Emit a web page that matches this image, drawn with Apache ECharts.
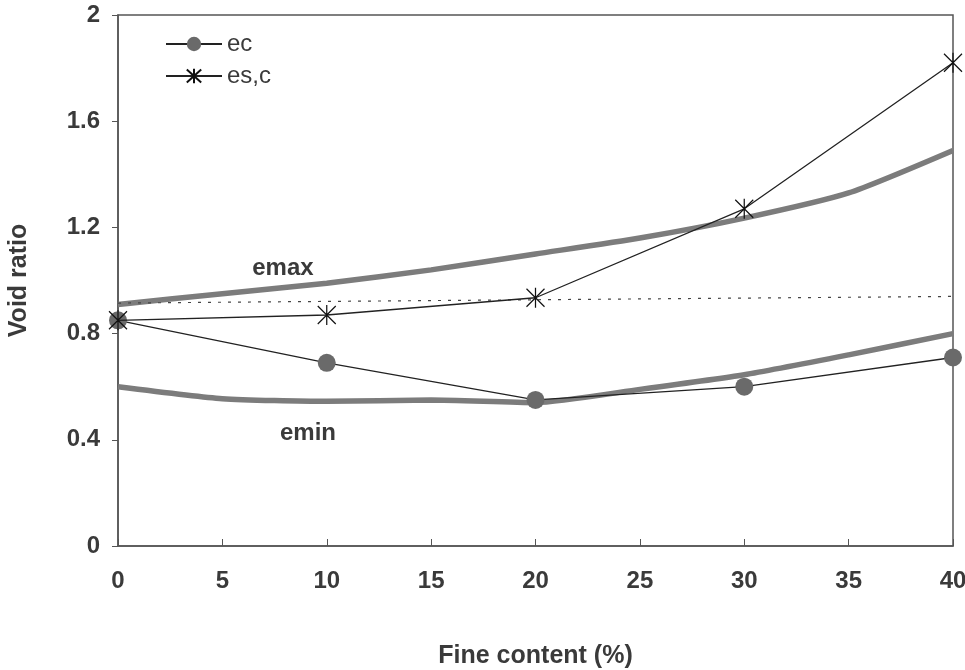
<!DOCTYPE html>
<html>
<head>
<meta charset="utf-8">
<script src="https://cdn.jsdelivr.net/npm/echarts@6/dist/echarts.min.js"></script>
<style>
  html, body { margin: 0; padding: 0; background: #fff; }
  #chart { width: 965px; height: 670px; }
</style>
</head>
<body>
<div id="chart"></div>
<script>
// fines content (%) of the test points
var fines = [0, 10, 20, 30, 40];
// measured void ratios
var ecValues = [0.85, 0.69, 0.55, 0.60, 0.71];
var escValues = [0.85, 0.87, 0.935, 1.27, 1.82];
// emax / emin curves
var emaxX = [0, 5, 10, 15, 20, 25, 30, 35, 40];
var emaxValues = [0.91, 0.95, 0.99, 1.04, 1.10, 1.16, 1.235, 1.33, 1.49];
var eminX = [0, 5, 10, 15, 20, 25, 30, 35, 40];
var eminValues = [0.60, 0.555, 0.545, 0.55, 0.54, 0.59, 0.645, 0.72, 0.80];
// dotted reference line
var dotX = [0, 40];
var dotValues = [0.915, 0.94];
var yTicks = [0, 0.4, 0.8, 1.2, 1.6, 2];

function pairs(xs, ys) {
  var res = [];
  for (var i = 0; i < xs.length; i++) {
    res.push([xs[i], ys[i]]);
  }
  return res;
}

var starPath = 'path://M0,-10L0,10M-9,-9L9,9M-9,9L9,-9';
var axisColor = '#555';
var textColor = '#3a3a3a';
var boldFont = { fontFamily: 'Liberation Sans', fontWeight: 'bold', color: textColor };

var dom = document.getElementById('chart');
var myChart = echarts.init(dom);
var option = {
  animation: false,
  grid: {
    left: 118,
    right: 12,
    top: 15,
    bottom: 124,
    outerBoundsMode: 'none',
    containLabel: false,
    show: true,
    borderColor: axisColor,
    borderWidth: 1.5
  },
  legend: {
    orient: 'vertical',
    left: 160,
    top: 27,
    itemWidth: 56,
    itemHeight: 18,
    itemGap: 8,
    textStyle: { fontFamily: 'Liberation Sans', fontSize: 24, color: textColor },
    data: ['ec', 'es,c']
  },
  xAxis: {
    type: 'value',
    min: 0,
    max: 40,
    interval: 5,
    name: 'Fine content (%)',
    nameLocation: 'middle',
    nameGap: 98,
    nameTextStyle: Object.assign({ fontSize: 25 }, boldFont),
    axisLine: { lineStyle: { color: axisColor, width: 1.5 } },
    axisTick: { inside: true, length: 7, lineStyle: { color: axisColor } },
    axisLabel: Object.assign({ margin: 23, fontSize: 24 }, boldFont),
    splitLine: { show: false }
  },
  yAxis: {
    type: 'value',
    min: 0,
    max: 2,
    interval: 0.4,
    name: 'Void ratio',
    nameLocation: 'middle',
    nameGap: 86,
    nameTextStyle: Object.assign({ fontSize: 25 }, boldFont),
    axisLine: { show: true, lineStyle: { color: axisColor, width: 1.5 } },
    axisTick: { show: true, length: 6, lineStyle: { color: axisColor } },
    axisLabel: Object.assign({
      margin: 18,
      fontSize: 24,
      formatter: function (v) {
        for (var i = 0; i < yTicks.length; i++) {
          if (Math.abs(yTicks[i] - v) < 1e-6) return String(yTicks[i]);
        }
        return '';
      }
    }, boldFont),
    splitLine: { show: false }
  },
  series: [
    {
      name: 'emax',
      type: 'line',
      data: pairs(emaxX, emaxValues),
      symbol: 'none',
      smooth: 0.2,
      lineStyle: { color: '#7c7c7c', width: 5.5 },
      z: 2,
      markPoint: {
        symbol: 'circle',
        symbolSize: 0,
        label: Object.assign({ show: true, position: 'inside', formatter: 'emax', fontSize: 24 }, boldFont),
        data: [{ coord: [7.9, 1.045] }]
      }
    },
    {
      name: 'emin',
      type: 'line',
      data: pairs(eminX, eminValues),
      symbol: 'none',
      smooth: 0.2,
      lineStyle: { color: '#7c7c7c', width: 5.5 },
      z: 2,
      markPoint: {
        symbol: 'circle',
        symbolSize: 0,
        label: Object.assign({ show: true, position: 'inside', formatter: 'emin', fontSize: 24 }, boldFont),
        data: [{ coord: [9.1, 0.425] }]
      }
    },
    {
      name: 'dotted',
      type: 'line',
      data: pairs(dotX, dotValues),
      symbol: 'none',
      lineStyle: { color: '#444', width: 1.2, type: [3, 7] },
      z: 3
    },
    {
      name: 'ec',
      type: 'line',
      data: pairs(fines, ecValues),
      symbol: 'circle',
      symbolSize: 18,
      itemStyle: { color: '#6a6a6a' },
      lineStyle: { color: '#222', width: 1.3 },
      z: 4
    },
    {
      name: 'es,c',
      type: 'line',
      data: pairs(fines, escValues),
      symbol: starPath,
      symbolSize: [18, 20],
      itemStyle: { color: 'none', borderColor: '#111', borderWidth: 1.3 },
      lineStyle: { color: '#222', width: 1.3 },
      z: 5
    }
  ]
};
myChart.setOption(option);
</script>
</body>
</html>
